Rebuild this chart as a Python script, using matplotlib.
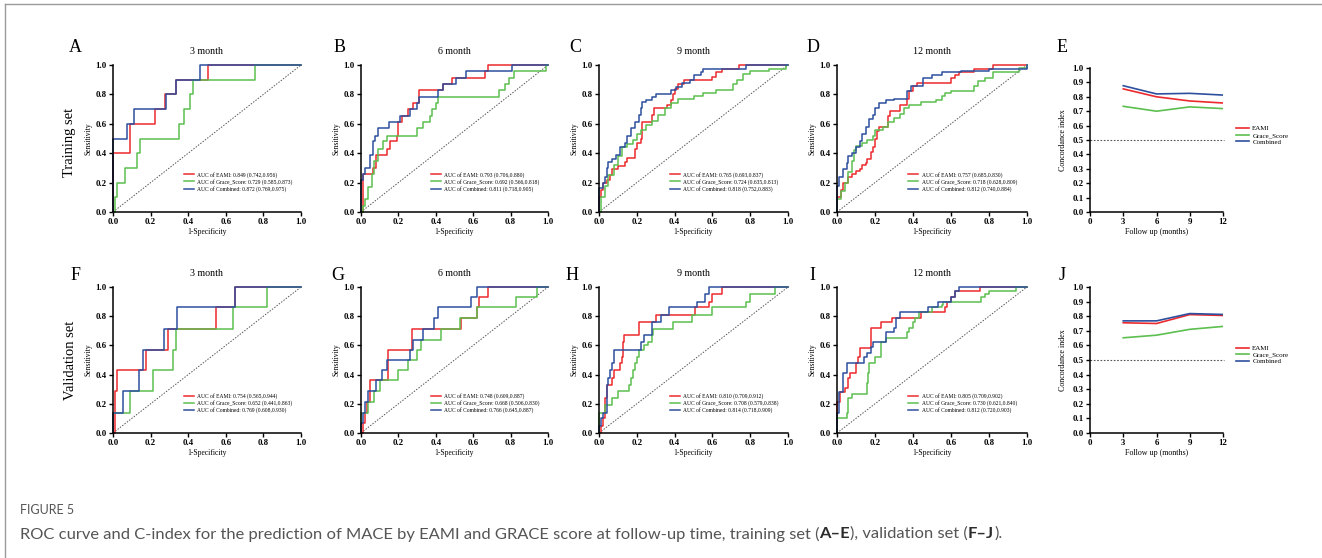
import matplotlib
matplotlib.use('Agg')
import matplotlib.pyplot as plt

plt.rcParams['font.family'] = ['Liberation Serif', 'DejaVu Serif']

red = '#ec2a2e'
green = '#5cbf4f'
blue = '#2c4f9e'

# ---- ROC data (fpr where tpr steps up, tpr after the step) ----
# training set
A_eami_fpr = [0, 0, 0.088, 0.222, 0.274, 0.335, 0.506, 1]
A_eami_tpr = [0, 0.4, 0.6, 0.7, 0.8, 0.9, 1.0, 1.0]
A_grace_fpr = [0, 0.009, 0.02, 0.062, 0.127, 0.141, 0.353, 0.375, 0.41, 0.427, 0.753, 1]
A_grace_tpr = [0, 0.1, 0.2, 0.3, 0.4, 0.5, 0.6, 0.7, 0.8, 0.9, 1.0, 1.0]
A_comb_fpr = [0, 0, 0.074, 0.113, 0.282, 0.335, 0.462, 1]
A_comb_tpr = [0, 0.5, 0.6, 0.7, 0.8, 0.9, 1.0, 1.0]

B_eami_fpr = [0, 0.012, 0.062, 0.078, 0.14, 0.155, 0.19, 0.2, 0.217, 0.253, 0.28, 0.311, 0.436, 0.487, 0.662, 0.68, 1]
B_eami_tpr = [0, 0.26, 0.30, 0.39, 0.43, 0.48, 0.52, 0.61, 0.65, 0.70, 0.74, 0.83, 0.87, 0.91, 0.96, 1.0, 1.0]
B_grace_fpr = [0, 0.01, 0.02, 0.035, 0.06, 0.07, 0.09, 0.12, 0.14, 0.3, 0.33, 0.37, 0.38, 0.40, 0.41, 0.74, 0.77, 0.79, 0.82, 0.99, 1]
B_grace_tpr = [0, 0.04, 0.09, 0.17, 0.26, 0.35, 0.43, 0.48, 0.52, 0.57, 0.61, 0.65, 0.70, 0.74, 0.78, 0.83, 0.87, 0.91, 0.96, 1.0, 1.0]
B_comb_fpr = [0, 0, 0.01, 0.02, 0.05, 0.063, 0.075, 0.09, 0.15, 0.208, 0.26, 0.30, 0.31, 0.413, 0.44, 0.51, 0.56, 0.81, 1]
B_comb_tpr = [0, 0.22, 0.26, 0.30, 0.39, 0.48, 0.52, 0.57, 0.61, 0.65, 0.70, 0.74, 0.78, 0.83, 0.87, 0.91, 0.96, 1.0, 1.0]

C_eami_fpr = [0, 0, 0.01, 0.02, 0.04, 0.06, 0.07, 0.1, 0.14, 0.15, 0.19, 0.2, 0.22, 0.23, 0.28, 0.29, 0.36, 0.38, 0.39, 0.4, 0.42, 0.45, 0.6, 0.62, 0.65, 0.74, 1]
C_eami_tpr = [0, 0.1, 0.15, 0.2, 0.22, 0.25, 0.29, 0.31, 0.34, 0.37, 0.43, 0.47, 0.5, 0.61, 0.66, 0.71, 0.73, 0.76, 0.8, 0.84, 0.87, 0.9, 0.92, 0.95, 0.97, 1.0, 1.0]
C_grace_fpr = [0, 0.01, 0.03, 0.05, 0.08, 0.1, 0.12, 0.15, 0.18, 0.2, 0.22, 0.25, 0.28, 0.31, 0.35, 0.38, 0.42, 0.5, 0.55, 0.62, 0.71, 0.73, 0.76, 0.8, 0.9, 0.99, 1]
C_grace_tpr = [0, 0.1, 0.18, 0.25, 0.32, 0.38, 0.44, 0.46, 0.49, 0.53, 0.56, 0.59, 0.62, 0.66, 0.71, 0.74, 0.77, 0.79, 0.81, 0.83, 0.87, 0.9, 0.94, 0.96, 0.97, 1.0, 1.0]
C_comb_fpr = [0, 0, 0.02, 0.03, 0.04, 0.05, 0.07, 0.09, 0.11, 0.14, 0.15, 0.17, 0.19, 0.21, 0.22, 0.23, 0.25, 0.28, 0.3, 0.38, 0.41, 0.44, 0.48, 0.5, 0.54, 0.55, 0.78, 1]
C_comb_tpr = [0, 0.16, 0.2, 0.24, 0.3, 0.34, 0.36, 0.39, 0.44, 0.47, 0.52, 0.57, 0.61, 0.66, 0.71, 0.75, 0.76, 0.78, 0.8, 0.83, 0.85, 0.88, 0.9, 0.93, 0.95, 0.97, 1.0, 1.0]

D_eami_fpr = [0, 0, 0.02, 0.03, 0.06, 0.08, 0.1, 0.12, 0.13, 0.15, 0.16, 0.18, 0.19, 0.2, 0.21, 0.22, 0.27, 0.28, 0.33, 0.37, 0.38, 0.4, 0.42, 0.6, 0.62, 0.64, 0.72, 0.82, 1]
D_eami_tpr = [0, 0.1, 0.15, 0.2, 0.24, 0.26, 0.28, 0.29, 0.32, 0.33, 0.36, 0.41, 0.44, 0.5, 0.55, 0.58, 0.65, 0.69, 0.73, 0.77, 0.82, 0.86, 0.88, 0.91, 0.93, 0.95, 0.97, 1.0, 1.0]
D_grace_fpr = [0, 0, 0.02, 0.04, 0.06, 0.08, 0.09, 0.1, 0.13, 0.16, 0.19, 0.2, 0.24, 0.27, 0.3, 0.33, 0.35, 0.38, 0.44, 0.52, 0.55, 0.57, 0.6, 0.72, 0.74, 0.78, 0.82, 0.96, 1]
D_grace_tpr = [0, 0.09, 0.14, 0.2, 0.27, 0.35, 0.42, 0.45, 0.47, 0.49, 0.52, 0.56, 0.58, 0.61, 0.64, 0.67, 0.71, 0.73, 0.75, 0.76, 0.79, 0.81, 0.82, 0.86, 0.89, 0.91, 0.95, 0.98, 1.0]
D_comb_fpr = [0, 0, 0.01, 0.03, 0.05, 0.06, 0.08, 0.1, 0.12, 0.13, 0.15, 0.17, 0.19, 0.2, 0.22, 0.26, 0.3, 0.37, 0.39, 0.45, 0.5, 0.55, 0.65, 0.8, 1]
D_comb_tpr = [0, 0.18, 0.24, 0.29, 0.33, 0.38, 0.4, 0.44, 0.48, 0.53, 0.58, 0.63, 0.66, 0.71, 0.74, 0.76, 0.77, 0.82, 0.86, 0.91, 0.93, 0.95, 0.96, 0.97, 1.0]

# validation set
F_eami_fpr = [0, 0.01, 0.02, 0.178, 0.29, 0.55, 0.65, 1]
F_eami_tpr = [0, 0.29, 0.43, 0.57, 0.71, 0.86, 1.0, 1.0]
F_grace_fpr = [0, 0, 0.09, 0.213, 0.317, 0.337, 0.64, 0.82, 1]
F_grace_tpr = [0, 0.14, 0.29, 0.43, 0.57, 0.71, 0.86, 1.0, 1.0]
F_comb_fpr = [0, 0, 0.055, 0.137, 0.16, 0.27, 0.34, 0.65, 1]
F_comb_tpr = [0, 0.14, 0.29, 0.43, 0.57, 0.71, 0.86, 1.0, 1.0]

G_eami_fpr = [0, 0.01, 0.02, 0.03, 0.048, 0.145, 0.273, 0.535, 0.62, 0.63, 0.68, 1]
G_eami_tpr = [0, 0.07, 0.14, 0.21, 0.36, 0.57, 0.71, 0.79, 0.86, 0.93, 1.0, 1.0]
G_grace_fpr = [0, 0, 0.04, 0.07, 0.1, 0.2, 0.25, 0.3, 0.32, 0.43, 0.53, 0.62, 0.83, 0.94, 1]
G_grace_tpr = [0, 0.14, 0.21, 0.29, 0.36, 0.43, 0.5, 0.57, 0.64, 0.71, 0.79, 0.86, 0.93, 1.0, 1.0]
G_comb_fpr = [0, 0, 0.01, 0.02, 0.04, 0.08, 0.11, 0.14, 0.26, 0.28, 0.33, 0.39, 0.41, 0.59, 0.62, 1]
G_comb_tpr = [0, 0.07, 0.14, 0.21, 0.29, 0.36, 0.43, 0.5, 0.57, 0.64, 0.71, 0.79, 0.86, 0.93, 1.0, 1.0]

H_eami_fpr = [0, 0.01, 0.02, 0.03, 0.04, 0.07, 0.08, 0.11, 0.12, 0.125, 0.13, 0.21, 0.3, 0.51, 0.58, 0.6, 0.65, 1]
H_eami_tpr = [0, 0.05, 0.1, 0.24, 0.33, 0.38, 0.43, 0.48, 0.52, 0.62, 0.67, 0.76, 0.81, 0.86, 0.9, 0.95, 1.0, 1.0]
H_grace_fpr = [0, 0, 0.03, 0.07, 0.1, 0.16, 0.17, 0.18, 0.19, 0.2, 0.21, 0.24, 0.26, 0.28, 0.285, 0.39, 0.49, 0.6, 0.78, 0.8, 0.93, 1]
H_grace_tpr = [0, 0.14, 0.19, 0.24, 0.29, 0.33, 0.38, 0.43, 0.48, 0.52, 0.57, 0.6, 0.62, 0.67, 0.71, 0.76, 0.81, 0.86, 0.9, 0.95, 1.0, 1.0]
H_comb_fpr = [0, 0, 0.01, 0.02, 0.04, 0.05, 0.06, 0.07, 0.08, 0.22, 0.24, 0.28, 0.33, 0.37, 0.52, 0.56, 0.58, 1]
H_comb_tpr = [0, 0.05, 0.1, 0.14, 0.33, 0.38, 0.43, 0.48, 0.57, 0.62, 0.67, 0.76, 0.81, 0.86, 0.9, 0.95, 1.0, 1.0]

I_eami_fpr = [0, 0, 0.017, 0.04, 0.06, 0.07, 0.1, 0.11, 0.12, 0.18, 0.23, 0.29, 0.44, 0.57, 0.58, 0.6, 0.62, 0.75, 1]
I_eami_tpr = [0, 0.21, 0.28, 0.31, 0.38, 0.41, 0.48, 0.52, 0.58, 0.72, 0.76, 0.79, 0.83, 0.86, 0.9, 0.93, 0.97, 1.0, 1.0]
I_grace_fpr = [0, 0, 0.05, 0.06, 0.08, 0.16, 0.165, 0.17, 0.2, 0.23, 0.26, 0.37, 0.38, 0.4, 0.41, 0.43, 0.5, 0.55, 0.56, 0.76, 0.78, 0.8, 0.94, 1]
I_grace_tpr = [0, 0.1, 0.14, 0.24, 0.27, 0.34, 0.41, 0.48, 0.52, 0.62, 0.65, 0.69, 0.72, 0.76, 0.79, 0.83, 0.86, 0.88, 0.9, 0.93, 0.95, 0.97, 1.0, 1.0]
I_comb_fpr = [0, 0, 0.01, 0.03, 0.05, 0.14, 0.16, 0.18, 0.19, 0.26, 0.3, 0.31, 0.33, 0.48, 0.53, 0.6, 0.62, 0.64, 1]
I_comb_tpr = [0, 0.14, 0.28, 0.41, 0.48, 0.52, 0.55, 0.59, 0.62, 0.69, 0.72, 0.79, 0.83, 0.86, 0.9, 0.93, 0.97, 1.0, 1.0]

auc_labels = {
    'A': ['0.849 (0.742,0.956)', '0.729 (0.585,0.873)', '0.872 (0.769,0.975)'],
    'B': ['0.793 (0.706,0.880)', '0.692 (0.566,0.818)', '0.811 (0.718,0.905)'],
    'C': ['0.765 (0.693,0.837)', '0.724 (0.635,0.813)', '0.818 (0.752,0.883)'],
    'D': ['0.757 (0.685,0.830)', '0.718 (0.628,0.809)', '0.812 (0.740,0.884)'],
    'F': ['0.754 (0.565,0.944)', '0.652 (0.441,0.863)', '0.769 (0.608,0.930)'],
    'G': ['0.748 (0.609,0.887)', '0.668 (0.506,0.830)', '0.766 (0.645,0.887)'],
    'H': ['0.810 (0.709,0.912)', '0.708 (0.579,0.838)', '0.814 (0.718,0.909)'],
    'I': ['0.805 (0.709,0.902)', '0.730 (0.621,0.840)', '0.812 (0.720,0.903)'],
}
titles = ['3 month', '6 month', '9 month', '12 month']

# ---- C-index data ----
months = [3, 6, 9, 12]
train_eami = [0.855, 0.800, 0.771, 0.757]
train_grace = [0.734, 0.700, 0.730, 0.718]
train_comb = [0.877, 0.820, 0.824, 0.812]
valid_eami = [0.755, 0.750, 0.811, 0.805]
valid_grace = [0.652, 0.670, 0.710, 0.730]
valid_comb = [0.768, 0.768, 0.818, 0.812]

W, H = 1322, 558
fig = plt.figure(figsize=(W / 100, H / 100), dpi=100)


def px_axes(x0, x1, ytop, ybot):
    return fig.add_axes([x0 / W, 1 - ybot / H, (x1 - x0) / W, (ybot - ytop) / H])


def style_axes(ax):
    for s in ['top', 'right']:
        ax.spines[s].set_visible(False)
    for s in ['left', 'bottom']:
        ax.spines[s].set_linewidth(1.1)
    ax.tick_params(direction='out', length=3, width=1, pad=1.5, labelsize=6.3)
    for lab in ax.get_xticklabels() + ax.get_yticklabels():
        lab.set_fontweight('bold')


roc_cols = [(113, 301), (361, 548), (599, 788), (837, 1027)]
rows = [(65, 212, ['A', 'B', 'C', 'D'], [75, 340, 575, 813], 48),
        (287, 433, ['F', 'G', 'H', 'I'], [76, 338, 572, 812], 276)]

for ytop, ybot, letters, letter_x, letter_y in rows:
    for (x0, x1), key, lx, title in zip(roc_cols, letters, letter_x, titles):
        ax = px_axes(x0, x1, ytop, ybot)
        curves = [(globals()[key + '_eami_fpr'], globals()[key + '_eami_tpr'], red, 'EAMI'),
                  (globals()[key + '_grace_fpr'], globals()[key + '_grace_tpr'], green, 'Grace_Score'),
                  (globals()[key + '_comb_fpr'], globals()[key + '_comb_tpr'], blue, 'Combined')]
        ax.axline((0, 0), slope=1, color='#555555', lw=0.7, ls=(0, (1.5, 1.5)))
        for (fx, ty, c, name), auc in zip(curves, auc_labels[key]):
            ax.plot(fx, ty, drawstyle='steps-post', color=c, lw=1.1, clip_on=False,
                    label=f'AUC of {name}: {auc}')
        ax.set_xlim(0, 1)
        ax.set_ylim(0, 1)
        ax.set_xticks([0, 0.2, 0.4, 0.6, 0.8, 1.0])
        ax.set_yticks([0, 0.2, 0.4, 0.6, 0.8, 1.0])
        ax.set_xticklabels(['0.0', '0.2', '0.4', '0.6', '0.8', '1.0'])
        ax.set_yticklabels(['0.0', '0.2', '0.4', '0.6', '0.8', '1.0'])
        style_axes(ax)
        ax.set_ylabel('Sensitivity', fontsize=5.5)
        ax.set_xlabel('1-Specificity', fontsize=5.5)
        ax.yaxis.set_label_coords(-0.11, 0.5)
        ax.xaxis.set_label_coords(0.5, -0.11)
        ax.legend(loc='upper left', bbox_to_anchor=(0.375, 0.275), frameon=False,
                  fontsize=4, handlelength=1.8, handletextpad=0.6, labelspacing=0.22,
                  borderpad=0, borderaxespad=0)
        ax.text(0.5, 1.0 + 13 / (ybot - ytop), title, transform=ax.transAxes,
                ha='center', va='center', fontsize=7.2)
        fig.text(lx / W, 1 - letter_y / H, key, fontsize=13, ha='center', va='center')

# ---- C-index panels ----
cidx_rows = [(68, 212, train_eami, train_grace, train_comb, 'E', 48),
             (287, 433, valid_eami, valid_grace, valid_comb, 'J', 276)]
for ytop, ybot, ce, cg, cc, key, ly in cidx_rows:
    ax = px_axes(1090, 1223, ytop, ybot)
    ax.axhline(0.5, color='#555555', lw=0.8, ls=(0, (1.5, 1.5)), xmax=1.01, clip_on=False)
    ax.plot(months, ce, color=red, lw=1.2, label='EAMI')
    ax.plot(months, cg, color=green, lw=1.2, label='Grace_Score')
    ax.plot(months, cc, color=blue, lw=1.2, label='Combined')
    ax.set_xlim(0, 12)
    ax.set_ylim(0, 1)
    ax.set_xticks([0, 3, 6, 9, 12])
    ax.set_yticks([i / 10 for i in range(11)])
    ax.set_yticklabels([f'{i / 10:.1f}' for i in range(11)])
    style_axes(ax)
    ax.set_ylabel('Concordance index', fontsize=5.8)
    ax.set_xlabel('Follow up (months)', fontsize=5.8)
    ax.yaxis.set_label_coords(-0.17, 0.5)
    ax.xaxis.set_label_coords(0.5, -0.11)
    ax.legend(loc='upper left', bbox_to_anchor=(1.1, 0.6), frameon=False,
              fontsize=5, handlelength=1.8, handletextpad=0.5, labelspacing=0.1,
              borderpad=0, borderaxespad=0)
    fig.text(1062 / W, 1 - ly / H, key, fontsize=13, ha='center', va='center')

# row labels
fig.text(70 / W, 1 - 142 / H, 'Training set', rotation=90, fontsize=10.5, ha='center', va='center')
fig.text(70 / W, 1 - 360 / H, 'Validation set', rotation=90, fontsize=10.5, ha='center', va='center')

# page frame
fig.add_artist(plt.Line2D([5 / W, 5 / W], [0, 1 - 4 / H], transform=fig.transFigure, color='#9a9a9a', lw=1))
fig.add_artist(plt.Line2D([5 / W, 1], [1 - 4 / H, 1 - 4 / H], transform=fig.transFigure, color='#9a9a9a', lw=1))

# caption
cap_font = ['Lato', 'DejaVu Sans']
fig.text(20 / W, 1 - 510 / H, 'FIGURE 5', fontsize=9, color='#555555', family=cap_font,
         ha='left', va='center')
parts = [('ROC curve and C-index for the prediction of MACE by EAMI and GRACE score at follow-up time, training set (', 'normal'),
         ('A\u2013E', 'bold'),
         ('), validation set (', 'normal'),
         ('F\u2013J', 'bold'),
         (').', 'normal')]
renderer = fig.canvas.get_renderer()
x = 20 / W
for s, wt in parts:
    t = fig.text(x, 1 - 534 / H, s, fontsize=11.85, color='#555555' if wt == 'normal' else '#2b2b2b',
                 fontweight=wt, family=cap_font, ha='left', va='center')
    x += t.get_window_extent(renderer).width / fig.bbox.width

fig.savefig('out.png', dpi=100)
